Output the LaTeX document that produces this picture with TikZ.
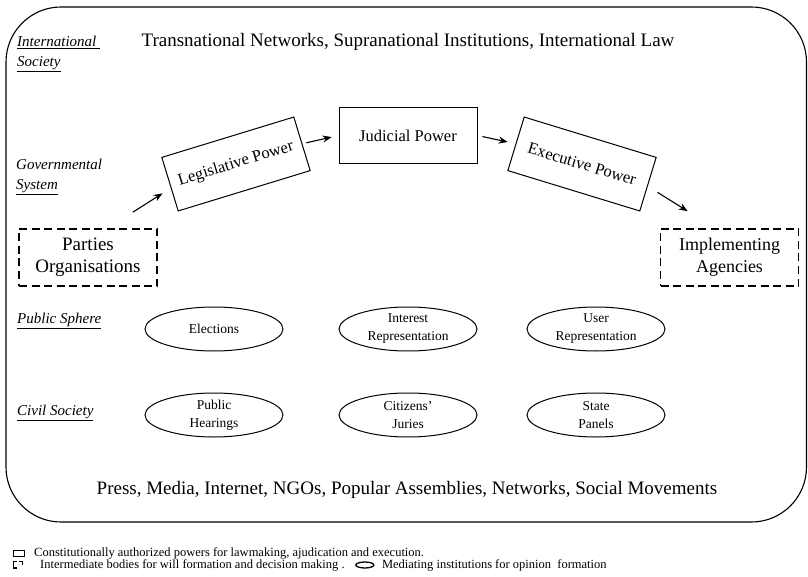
\documentclass[tikz,border=0pt]{standalone}
\usepackage{fontspec}
\setmainfont{Liberation Serif}
\usetikzlibrary{arrows.meta,calc,shapes.geometric}

\begin{document}
\begin{tikzpicture}[
x=1pt, y=-1pt,
power/.style={rectangle, draw=black, line width=1pt, minimum width=138, minimum height=56, font=\fontsize{16.5}{19}\selectfont},
body/.style={rectangle, draw=black, line width=1.6pt, dash pattern=on 8pt off 4.5pt, minimum width=138, minimum height=57, align=center, font=\fontsize{18}{22}\selectfont},
forum/.style={ellipse, draw=black, line width=1pt, minimum width=138, minimum height=44, inner sep=0pt, align=center, font=\fontsize{13.5}{18}\selectfont},
level/.style={anchor=west, align=left, inner sep=0pt, font=\fontsize{15}{20}\selectfont\itshape},
banner/.style={font=\fontsize{19}{22}\selectfont},
note/.style={anchor=west, inner sep=0pt, font=\fontsize{12.5}{14}\selectfont},
flow/.style={-{Stealth[length=9pt, width=7pt]}, line width=1.1pt},
]
\useasboundingbox (0,0) rectangle (808,577);
\draw[line width=1.1pt, rounded corners=55pt] (6,7) rectangle (806.5,522);

% levels
\node[level] (intl) at (17,54) {\underline{International\ }\\\underline{Society}};
\node[level] (govt) at (16,177) {Governmental\\\underline{System}};
\node[level] (pubs) at (17,321) {\underline{Public Sphere}};
\node[level] (civs) at (17,413) {\underline{Civil Society}};

\node[banner] (transnat) at (408,42) {Transnational Networks, Supranational Institutions, International Law};
\node[banner] (press) at (407,490) {Press, Media, Internet, NGOs, Popular Assemblies, Networks, Social Movements};

% powers
\node[power, rotate=17] (legis) at (236,164) {Legislative Power};
\node[power] (judicial) at (408,135.5) {Judicial Power};
\node[power, rotate=-17] (exec) at (582,164) {Executive Power};
\node[body, font=\fontsize{19}{22}\selectfont] (parties) at (88,257.5) {Parties\\Organisations};
\node[body] (impl) at (729.5,257.5) {Implementing\\Agencies};

% mediating institutions
\node[forum] (elect) at (214,329) {Elections};
\node[forum] (interest) at (408,329) {Interest\\Representation};
\node[forum] (user) at (596,329) {User\\Representation};
\node[forum] (hear) at (214,415) {Public\\Hearings};
\node[forum] (jury) at (408,415) {Citizens'\\Juries};
\node[forum] (panel) at (596,415) {State\\Panels};

\draw[flow] ($(parties.north east)+(-25,-16)$) -- ($(legis.west)+(-7,9)$);
\draw[flow, shorten <=4pt, shorten >=7pt] (legis.east) -- (judicial.west);
\draw[flow, shorten <=5pt, shorten >=8pt] (judicial.east) -- (exec.west);
\draw[flow] ($(exec.east)+(9,8)$) -- ($(impl.north west)+(28,-17)$);

% legend
\draw[line width=0.8pt] (13,550) rectangle (24,556);
\node[note] (n1) at (34,553) {Constitutionally authorized powers for lawmaking, ajudication and execution.};
\draw[line width=1.5pt] (17,561.5) -- (13.5,561.5) -- (13.5,568) -- (17,568);
\draw[line width=1.5pt] (19,561.5) -- (22.5,561.5) -- (22.5,565);
\node[note] (n2) at (40,565) {Intermediate bodies for will formation and decision making .};
\draw[line width=1.3pt] ($(n2.east)+(20,0)$) ellipse (9 and 3);
\node[note] (n3) at ($(n2.east)+(37,0)$) {Mediating institutions for opinion\ \ formation};
\end{tikzpicture}
\end{document}
